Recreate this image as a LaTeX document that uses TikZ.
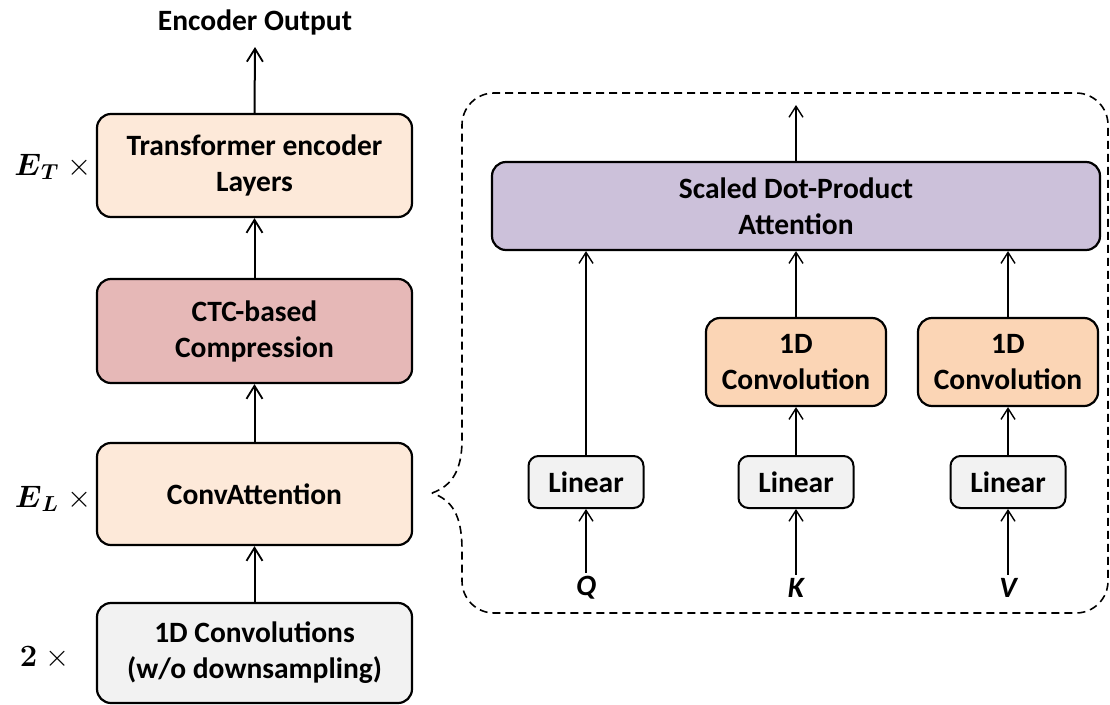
\RequirePackage{fix-cm}
\documentclass[tikz,border=0pt]{standalone}
\usepackage{fontspec}
\setmainfont{Carlito}
\usepackage{amsmath}
\usetikzlibrary{arrows.meta}
\definecolor{peach}{HTML}{FDE9D9}
\definecolor{rosy}{HTML}{E6B8B7}
\definecolor{lightgray}{HTML}{F2F2F2}
\definecolor{lavender}{HTML}{CCC1DA}
\definecolor{apricot}{HTML}{FBD5B5}
\tikzset{
  blk/.style={draw=black, line width=2.2pt, rounded corners=14pt, align=center,
    font=\fontsize{29.5}{36}\selectfont\bfseries, inner sep=0pt},
  mainarrow/.style={-{Straight Barb[length=13pt,width=16pt,line width=1.8pt]}, line width=2pt},
  subarrow/.style={-{Straight Barb[length=11pt,width=14pt,line width=1.4pt]}, line width=1.5pt},
  mult/.style={font=\fontsize{31}{36}\selectfont},
  qkv/.style={font=\fontsize{29.5}{32}\selectfont\bfseries\itshape},
}
\begin{document}
\begin{tikzpicture}[x=1pt,y=-1pt]
\useasboundingbox (0,0) rectangle (1110,704);

% encoder stack
\node[blk, fill=peach, minimum width=315pt, minimum height=103pt] (trans) at (254.5,165.5) {Transformer encoder\\Layers};
\node[blk, fill=rosy, minimum width=315pt, minimum height=104pt] (ctc) at (254.5,331) {CTC-based\\Compression};
\node[blk, fill=peach, minimum width=315pt, minimum height=102pt] (conv) at (254.5,494) {ConvAttention};
\node[blk, fill=lightgray, minimum width=315pt, minimum height=100pt] (pre) at (254.5,653) {1D Convolutions\\(w/o downsampling)};
\node[font=\fontsize{29.5}{32}\selectfont\bfseries] (out) at (255,22) {Encoder Output};
\coordinate (outtip) at (255,47);

\draw[mainarrow] (trans.north) -- (outtip);
\draw[mainarrow] (ctc.north) -- (trans.south);
\draw[mainarrow] (conv.north) -- (ctc.south);
\draw[mainarrow] (pre.north) -- (conv.south);

% repetition counts
\node[mult] (et) at (53,167) {$\boldsymbol{E}_{\boldsymbol{T}}\;\times$};
\node[mult] (el) at (53,499) {$\boldsymbol{E}_{\boldsymbol{L}}\;\times$};
\node[mult] (two) at (45,658) {$\boldsymbol{2}\;\times$};

% dashed outline of the ConvAttention block, with its brace point
\draw[dashed, line width=1.6pt, dash pattern=on 8pt off 5pt]
  (432,493) .. controls (452,486) and (462,470) .. (462,440)
  [rounded corners=32pt] -- (462,93) -- (1108,93) -- (1108,613) -- (462,613)
  [sharp corners] -- (462,550) .. controls (462,515) and (452,500) .. (432,493);

% ConvAttention internals
\node[blk, fill=lavender, minimum width=608pt, minimum height=88pt] (sdpa) at (796,206) {Scaled Dot-Product\\Attention};
\coordinate (sdpatip) at (796,105);
\draw[subarrow] (sdpa.north) -- (sdpatip);

\tikzset{lin/.style={blk, fill=lightgray, line width=2pt, rounded corners=10pt, minimum width=115pt, minimum height=52pt},
         cv/.style={blk, fill=apricot, rounded corners=14pt, minimum width=180pt, minimum height=88pt}}
\node[lin] (lq) at (586,482) {Linear};
\node[lin] (lk) at (796,482) {Linear};
\node[lin] (lv) at (1008,482) {Linear};
\node[cv] (ck) at (796,362) {1D\\Convolution};
\node[cv] (cvv) at (1008,362) {1D\\Convolution};

\node[qkv] (q) at (586,588) {Q};
\node[qkv] (k) at (796,588) {K};
\node[qkv] (v) at (1008,588) {V};

\draw[subarrow] (lq.south |- q.north) -- (lq.south);
\draw[subarrow] (lk.south |- k.north) -- (lk.south);
\draw[subarrow] (lv.south |- v.north) -- (lv.south);
\draw[subarrow] (lq.north) -- (lq.north |- sdpa.south);
\draw[subarrow] (lk.north) -- (ck.south);
\draw[subarrow] (lv.north) -- (cvv.south);
\draw[subarrow] (ck.north) -- (ck.north |- sdpa.south);
\draw[subarrow] (cvv.north) -- (cvv.north |- sdpa.south);
\end{tikzpicture}
\end{document}
